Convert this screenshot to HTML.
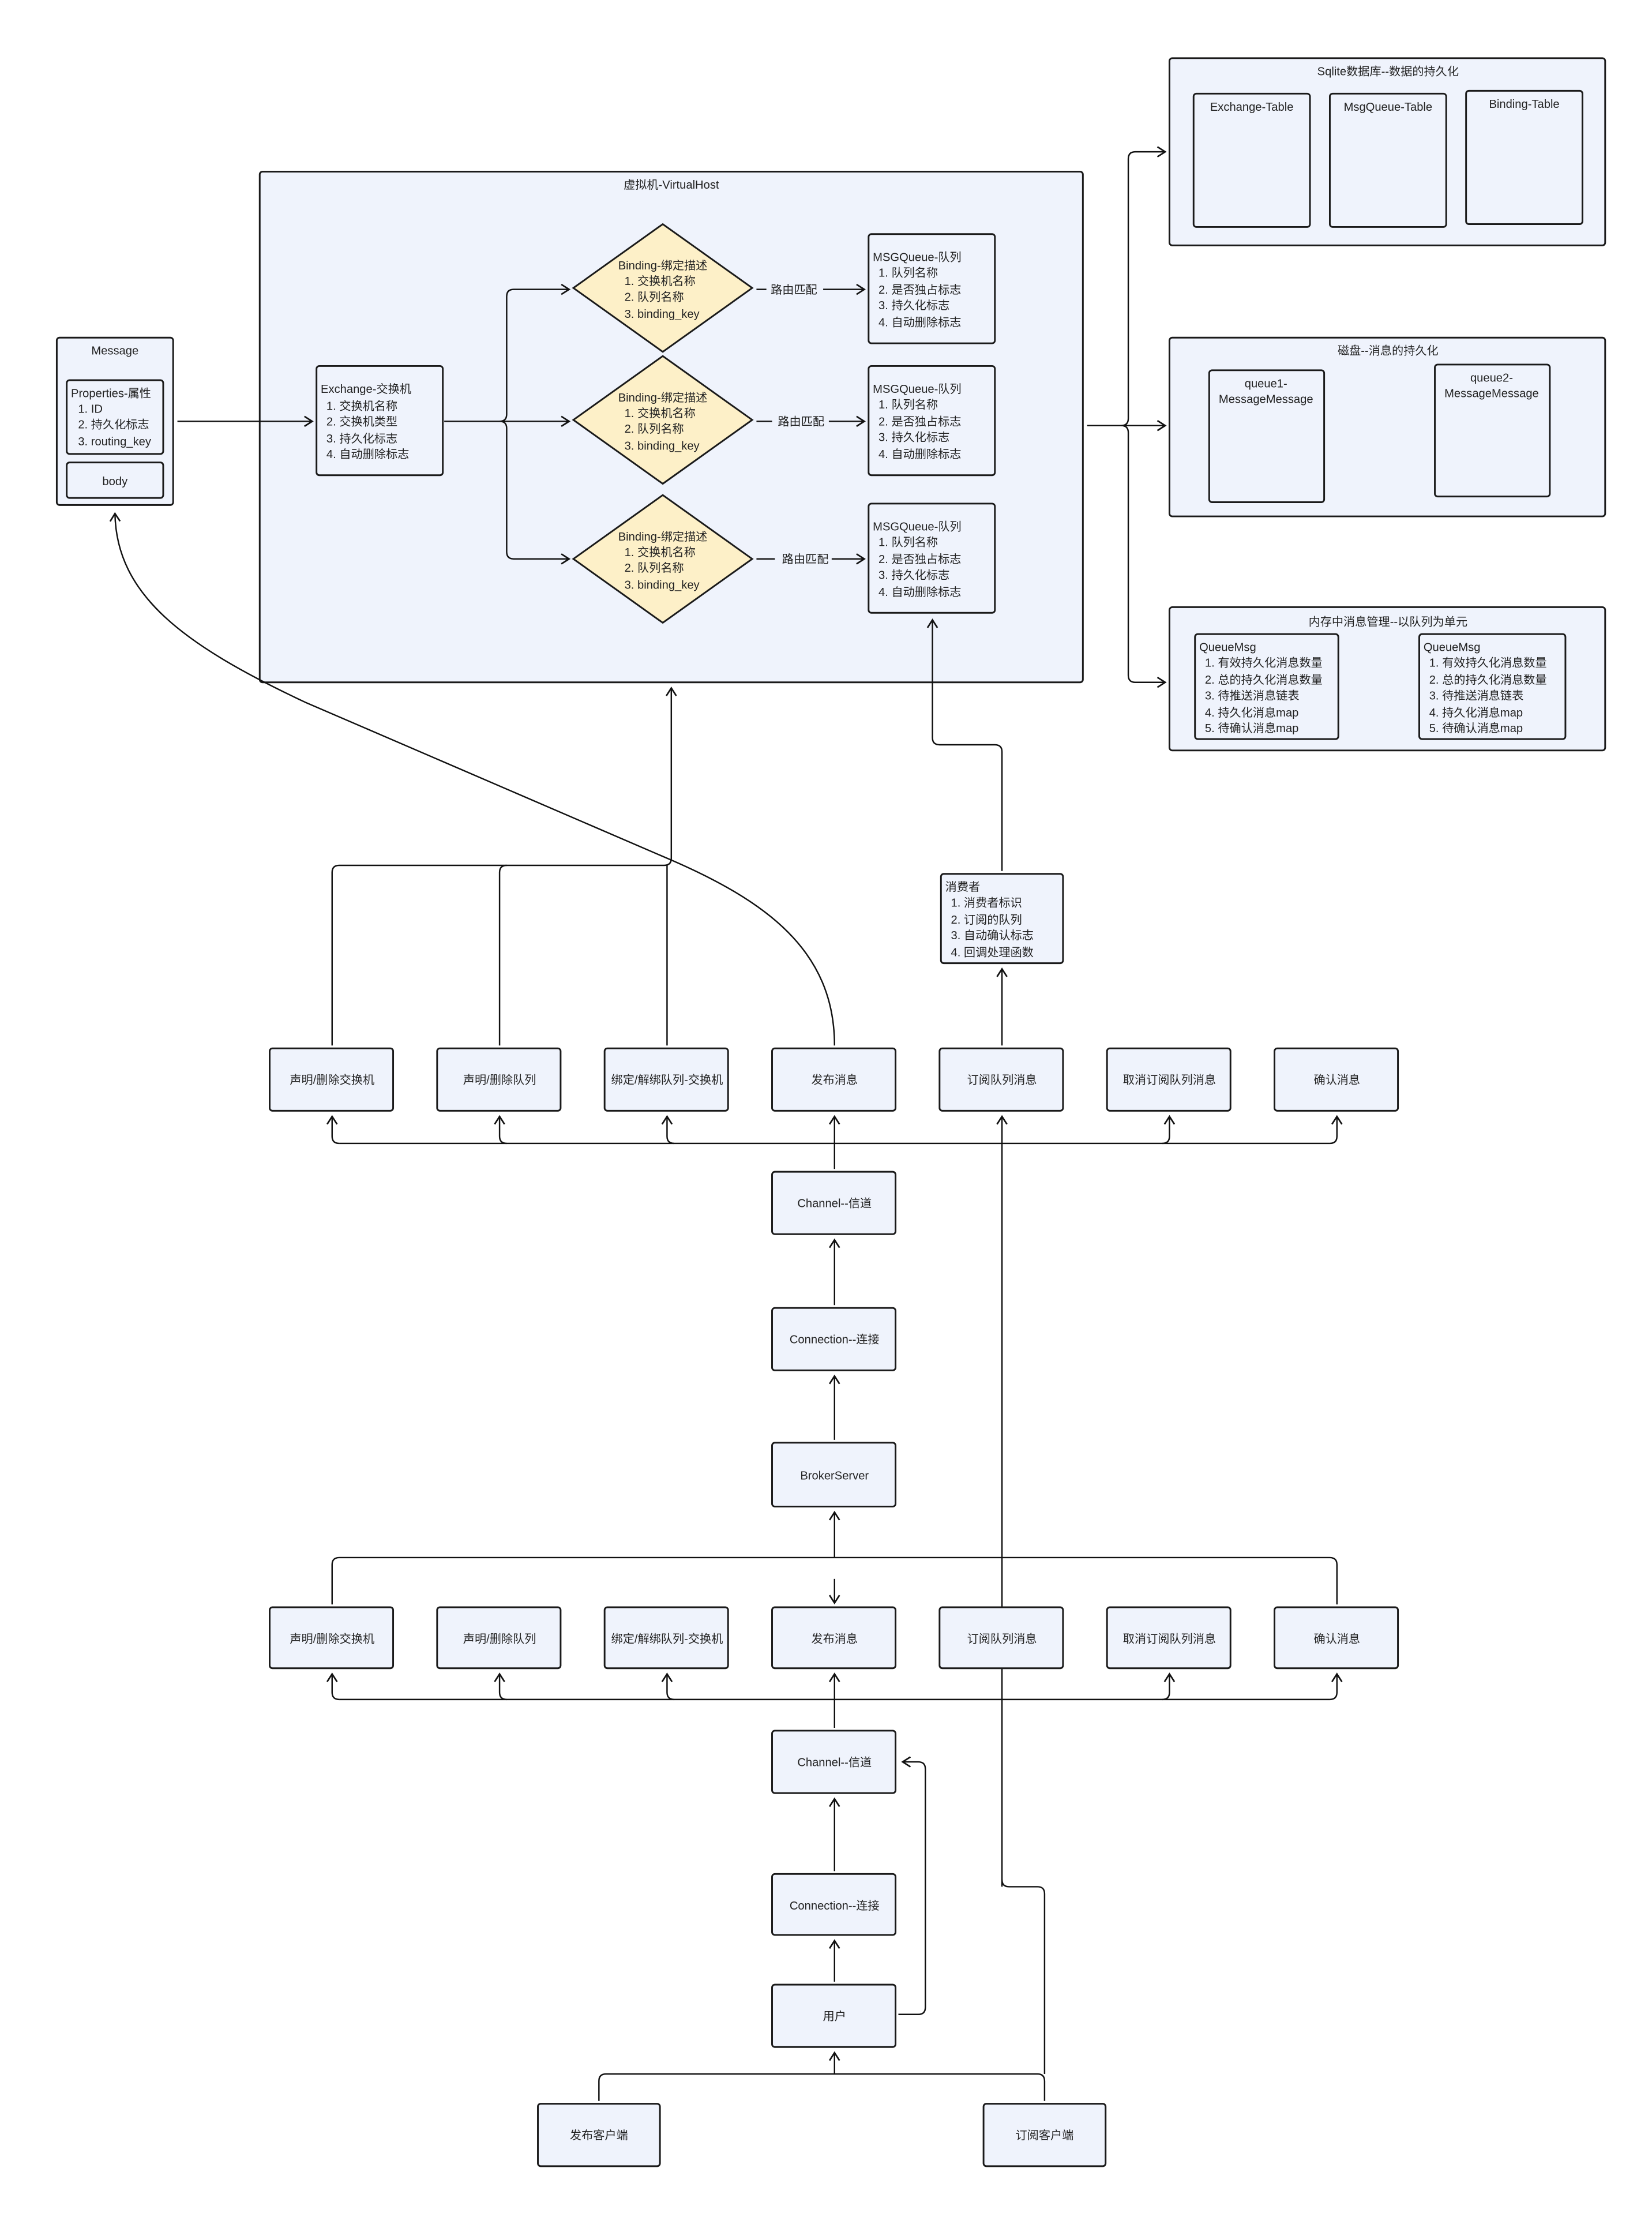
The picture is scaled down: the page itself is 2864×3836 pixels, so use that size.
<!DOCTYPE html>
<html><head><meta charset="utf-8"><style>
html,body{margin:0;padding:0;background:#fff;}
svg{display:block;}
text{font-family:"Liberation Sans","Noto Sans CJK SC",sans-serif;font-size:8.2px;fill:#222;}
.b{fill:#eff3fc;stroke:#1a1a1a;stroke-width:1.2;}
.d{fill:#fdf0c8;stroke:#1a1a1a;stroke-width:1.2;}
.l{fill:none;stroke:#111;stroke-width:1;}
.c{text-anchor:middle;}
</style></head><body>
<svg width="2864" height="3836" viewBox="0 0 1164 1560" preserveAspectRatio="none" xmlns="http://www.w3.org/2000/svg">
<defs>
<marker id="a" markerUnits="userSpaceOnUse" markerWidth="10" markerHeight="10" refX="6" refY="4" orient="auto">
<path d="M0.5,0.5 L6,4 L0.5,7.5" fill="none" stroke="#111" stroke-width="1.1"/></marker>
</defs>

<!-- Message -->
<rect class="b" x="40" y="238" width="82" height="118" rx="2"/>
<text class="c" x="81" y="250">Message</text>
<rect class="b" x="47" y="268" width="68" height="52" rx="2"/>
<text x="50" y="280">Properties-属性</text>
<text x="55" y="291">1. ID</text>
<text x="55" y="302">2. 持久化标志</text>
<text x="55" y="314">3. routing_key</text>
<rect class="b" x="47" y="326" width="68" height="25" rx="2"/>
<text class="c" x="81" y="342">body</text>

<!-- VirtualHost -->
<rect class="b" x="183" y="121" width="580" height="360" rx="2"/>
<text class="c" x="473" y="133">虚拟机-VirtualHost</text>

<line class="l" x1="125" y1="297" x2="220" y2="297" marker-end="url(#a)"/>

<rect class="b" x="223" y="258" width="89" height="77" rx="2"/>
<text x="226" y="277">Exchange-交换机</text>
<text x="230" y="289">1. 交换机名称</text>
<text x="230" y="300">2. 交换机类型</text>
<text x="230" y="312">3. 持久化标志</text>
<text x="230" y="323">4. 自动删除标志</text>

<path class="l" d="M313,297 H352 Q357,297 357,292 V209 Q357,204 362,204 H401" marker-end="url(#a)"/>
<path class="l" d="M352,297 H401" marker-end="url(#a)"/>
<path class="l" d="M352,297 Q357,297 357,302 V389 Q357,394 362,394 H401" marker-end="url(#a)"/>

<!-- diamonds -->
<polygon class="d" points="467,158 530,203 467,248 404,203"/>
<polygon class="d" points="467,251 530,296 467,341 404,296"/>
<polygon class="d" points="467,349 530,394 467,439 404,394"/>
<g>
<text class="c" x="467" y="190">Binding-绑定描述</text>
<text x="440" y="201">1. 交换机名称</text>
<text x="440" y="212">2. 队列名称</text>
<text x="440" y="224">3. binding_key</text>
<text class="c" x="467" y="283">Binding-绑定描述</text>
<text x="440" y="294">1. 交换机名称</text>
<text x="440" y="305">2. 队列名称</text>
<text x="440" y="317">3. binding_key</text>
<text class="c" x="467" y="381">Binding-绑定描述</text>
<text x="440" y="392">1. 交换机名称</text>
<text x="440" y="403">2. 队列名称</text>
<text x="440" y="415">3. binding_key</text>
</g>
<line class="l" x1="533" y1="204" x2="540" y2="204"/>
<text x="543" y="207">路由匹配</text>
<line class="l" x1="580" y1="204" x2="609" y2="204" marker-end="url(#a)"/>
<line class="l" x1="533" y1="297" x2="544" y2="297"/>
<text x="548" y="300">路由匹配</text>
<line class="l" x1="584" y1="297" x2="609" y2="297" marker-end="url(#a)"/>
<line class="l" x1="533" y1="394" x2="546" y2="394"/>
<text x="551" y="397">路由匹配</text>
<line class="l" x1="586" y1="394" x2="609" y2="394" marker-end="url(#a)"/>

<!-- queues -->
<rect class="b" x="612" y="165" width="89" height="77" rx="2"/>
<text x="615" y="184">MSGQueue-队列</text><text x="619" y="195">1. 队列名称</text><text x="619" y="207">2. 是否独占标志</text><text x="619" y="218">3. 持久化标志</text><text x="619" y="230">4. 自动删除标志</text>
<rect class="b" x="612" y="258" width="89" height="77" rx="2"/>
<text x="615" y="277">MSGQueue-队列</text><text x="619" y="288">1. 队列名称</text><text x="619" y="300">2. 是否独占标志</text><text x="619" y="311">3. 持久化标志</text><text x="619" y="323">4. 自动删除标志</text>
<rect class="b" x="612" y="355" width="89" height="77" rx="2"/>
<text x="615" y="374">MSGQueue-队列</text><text x="619" y="385">1. 队列名称</text><text x="619" y="397">2. 是否独占标志</text><text x="619" y="408">3. 持久化标志</text><text x="619" y="420">4. 自动删除标志</text>

<!-- right branch -->
<path class="l" d="M766,300 H790 Q795,300 795,295 V112 Q795,107 800,107 H821" marker-end="url(#a)"/>
<path class="l" d="M790,300 H821" marker-end="url(#a)"/>
<path class="l" d="M790,300 Q795,300 795,305 V476 Q795,481 800,481 H821" marker-end="url(#a)"/>

<!-- Sqlite -->
<rect class="b" x="824" y="41" width="307" height="132" rx="2"/>
<text class="c" x="978" y="53">Sqlite数据库--数据的持久化</text>
<rect class="b" x="841" y="66" width="82" height="94" rx="2"/><text class="c" x="882" y="78">Exchange-Table</text>
<rect class="b" x="937" y="66" width="82" height="94" rx="2"/><text class="c" x="978" y="78">MsgQueue-Table</text>
<rect class="b" x="1033" y="64" width="82" height="94" rx="2"/><text class="c" x="1074" y="76">Binding-Table</text>

<!-- Disk -->
<rect class="b" x="824" y="238" width="307" height="126" rx="2"/>
<text class="c" x="978" y="250">磁盘--消息的持久化</text>
<rect class="b" x="852" y="261" width="81" height="93" rx="2"/>
<text class="c" x="892" y="273">queue1-</text><text class="c" x="892" y="284">MessageMessage</text>
<rect class="b" x="1011" y="257" width="81" height="93" rx="2"/>
<text class="c" x="1051" y="269">queue2-</text><text class="c" x="1051" y="280">MessageMessage</text>

<!-- Memory -->
<rect class="b" x="824" y="428" width="307" height="101" rx="2"/>
<text class="c" x="978" y="441">内存中消息管理--以队列为单元</text>
<rect class="b" x="842" y="447" width="101" height="74" rx="2"/>
<text x="845" y="459">QueueMsg</text><text x="849" y="470">1. 有效持久化消息数量</text><text x="849" y="482">2. 总的持久化消息数量</text><text x="849" y="493">3. 待推送消息链表</text><text x="849" y="505">4. 持久化消息map</text><text x="849" y="516">5. 待确认消息map</text>
<rect class="b" x="1000" y="447" width="103" height="74" rx="2"/>
<text x="1003" y="459">QueueMsg</text><text x="1007" y="470">1. 有效持久化消息数量</text><text x="1007" y="482">2. 总的持久化消息数量</text><text x="1007" y="493">3. 待推送消息链表</text><text x="1007" y="505">4. 持久化消息map</text><text x="1007" y="516">5. 待确认消息map</text>

<!-- lines top row -> VH -->
<path class="l" d="M234,737 V615 Q234,610 239,610 H468 Q473,610 473,605 V485" marker-end="url(#a)"/>
<path class="l" d="M352,737 V615 Q352,610 357,610"/>
<line class="l" x1="470" y1="737" x2="470" y2="610"/>
<!-- curve publish -> Message -->
<path class="l" d="M588,737 C588,670 540,635 470,605 L215,495 C130,455 82,420 81,362" marker-end="url(#a)"/>

<!-- consumer -->
<rect class="b" x="663" y="616" width="86" height="63" rx="2"/>
<text x="666" y="628">消费者</text><text x="670" y="639">1. 消费者标识</text><text x="670" y="651">2. 订阅的队列</text><text x="670" y="662">3. 自动确认标志</text><text x="670" y="674">4. 回调处理函数</text>
<line class="l" x1="706" y1="737" x2="706" y2="683" marker-end="url(#a)"/>
<path class="l" d="M706,614 V530 Q706,525 701,525 H662 Q657,525 657,520 V437" marker-end="url(#a)"/>

<!-- top row boxes -->
<g>
<rect class="b" x="190" y="739" width="87" height="44" rx="2"/><text class="c" x="234" y="764">声明/删除交换机</text>
<rect class="b" x="308" y="739" width="87" height="44" rx="2"/><text class="c" x="352" y="764">声明/删除队列</text>
<rect class="b" x="426" y="739" width="87" height="44" rx="2"/><text class="c" x="470" y="764">绑定/解绑队列-交换机</text>
<rect class="b" x="544" y="739" width="87" height="44" rx="2"/><text class="c" x="588" y="764">发布消息</text>
<rect class="b" x="662" y="739" width="87" height="44" rx="2"/><text class="c" x="706" y="764">订阅队列消息</text>
<rect class="b" x="780" y="739" width="87" height="44" rx="2"/><text class="c" x="824" y="764">取消订阅队列消息</text>
<rect class="b" x="898" y="739" width="87" height="44" rx="2"/><text class="c" x="942" y="764">确认消息</text>
</g>
<path class="l" d="M239,806 H937"/>
<path class="l" d="M239,806 Q234,806 234,801 V787" marker-end="url(#a)"/>
<path class="l" d="M357,806 Q352,806 352,801 V787" marker-end="url(#a)"/>
<path class="l" d="M475,806 Q470,806 470,801 V787" marker-end="url(#a)"/>
<line class="l" x1="588" y1="824" x2="588" y2="787" marker-end="url(#a)"/>
<path class="l" d="M819,806 Q824,806 824,801 V787" marker-end="url(#a)"/>
<path class="l" d="M937,806 Q942,806 942,801 V787" marker-end="url(#a)"/>
<line class="l" x1="706" y1="1330" x2="706" y2="787" marker-end="url(#a)"/>

<rect class="b" x="544" y="826" width="87" height="44" rx="2"/><text class="c" x="588" y="851">Channel--信道</text>
<line class="l" x1="588" y1="920" x2="588" y2="874" marker-end="url(#a)"/>
<rect class="b" x="544" y="922" width="87" height="44" rx="2"/><text class="c" x="588" y="947">Connection--连接</text>
<line class="l" x1="588" y1="1015" x2="588" y2="970" marker-end="url(#a)"/>
<rect class="b" x="544" y="1017" width="87" height="45" rx="2"/><text class="c" x="588" y="1043">BrokerServer</text>

<path class="l" d="M234,1131 V1103 Q234,1098 239,1098 H937 Q942,1098 942,1103 V1131"/>
<line class="l" x1="588" y1="1098" x2="588" y2="1066" marker-end="url(#a)"/>
<line class="l" x1="588" y1="1113" x2="588" y2="1130" marker-end="url(#a)"/>

<!-- bottom row -->
<g>
<rect class="b" x="190" y="1133" width="87" height="43" rx="2"/><text class="c" x="234" y="1158">声明/删除交换机</text>
<rect class="b" x="308" y="1133" width="87" height="43" rx="2"/><text class="c" x="352" y="1158">声明/删除队列</text>
<rect class="b" x="426" y="1133" width="87" height="43" rx="2"/><text class="c" x="470" y="1158">绑定/解绑队列-交换机</text>
<rect class="b" x="544" y="1133" width="87" height="43" rx="2"/><text class="c" x="588" y="1158">发布消息</text>
<rect class="b" x="662" y="1133" width="87" height="43" rx="2"/><text class="c" x="706" y="1158">订阅队列消息</text>
<rect class="b" x="780" y="1133" width="87" height="43" rx="2"/><text class="c" x="824" y="1158">取消订阅队列消息</text>
<rect class="b" x="898" y="1133" width="87" height="43" rx="2"/><text class="c" x="942" y="1158">确认消息</text>
</g>
<path class="l" d="M239,1198 H937"/>
<path class="l" d="M239,1198 Q234,1198 234,1193 V1180" marker-end="url(#a)"/>
<path class="l" d="M357,1198 Q352,1198 352,1193 V1180" marker-end="url(#a)"/>
<path class="l" d="M475,1198 Q470,1198 470,1193 V1180" marker-end="url(#a)"/>
<line class="l" x1="588" y1="1218" x2="588" y2="1180" marker-end="url(#a)"/>
<path class="l" d="M819,1198 Q824,1198 824,1193 V1180" marker-end="url(#a)"/>
<path class="l" d="M937,1198 Q942,1198 942,1193 V1180" marker-end="url(#a)"/>

<rect class="b" x="544" y="1220" width="87" height="44" rx="2"/><text class="c" x="588" y="1245">Channel--信道</text>
<line class="l" x1="588" y1="1319" x2="588" y2="1268" marker-end="url(#a)"/>
<rect class="b" x="544" y="1321" width="87" height="43" rx="2"/><text class="c" x="588" y="1346">Connection--连接</text>
<line class="l" x1="588" y1="1397" x2="588" y2="1368" marker-end="url(#a)"/>
<rect class="b" x="544" y="1399" width="87" height="44" rx="2"/><text class="c" x="588" y="1424">用户</text>
<path class="l" d="M633,1420 H647 Q652,1420 652,1415 V1247 Q652,1242 647,1242 H636" marker-end="url(#a)"/>

<path class="l" d="M422,1481 V1467 Q422,1462 427,1462 H731 Q736,1462 736,1467 V1481"/>
<line class="l" x1="588" y1="1462" x2="588" y2="1447" marker-end="url(#a)"/>
<path class="l" d="M736,1462 V1335 Q736,1330 731,1330 H711 Q706,1330 706,1325"/>
<rect class="b" x="379" y="1483" width="86" height="44" rx="2"/><text class="c" x="422" y="1508">发布客户端</text>
<rect class="b" x="693" y="1483" width="86" height="44" rx="2"/><text class="c" x="736" y="1508">订阅客户端</text>
</svg>
</body></html>
